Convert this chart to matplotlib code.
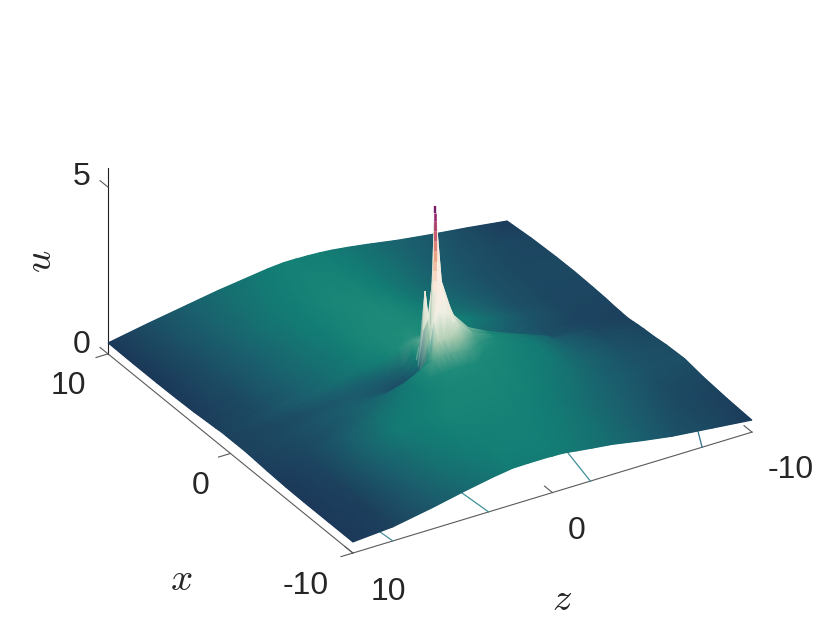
import numpy as np
import matplotlib
matplotlib.use("Agg")
import matplotlib.pyplot as plt
from matplotlib.colors import LinearSegmentedColormap
from matplotlib.collections import LineCollection
from matplotlib.tri import Triangulation
from mpl_toolkits.mplot3d import proj3d

W, H = 830, 623
plt.rcParams['font.family'] = ['Liberation Sans', 'DejaVu Sans']
plt.rcParams['mathtext.fontset'] = 'cm'

# ---------- data ----------
x_nodes = [10, 8, 6, 4.5, 3, 2, 1.2, .7, .35, .15, 0, -.15, -.35, -.7, -1.2, -2, -3, -4.5, -6, -8, -10]
z_nodes = [10, 8, 6, 4.5, 3, 2, 1.2, .6, .25, 0, -.25, -.6, -1.2, -2, -3, -4.5, -6, -8, -10]
u_table = [
    [.33, .55, .75, .90, 1.02, 1.10, 1.14, 1.14, 1.13, 1.13, 1.12, 1.11, 1.08, 1.02, .93, .78, .66, .52, .36],
    [.32, .55, .78, .95, 1.08, 1.15, 1.18, 1.18, 1.17, 1.17, 1.16, 1.14, 1.10, 1.02, .92, .76, .63, .52, .44],
    [.32, .54, .78, .96, 1.10, 1.18, 1.22, 1.22, 1.21, 1.21, 1.20, 1.17, 1.12, 1.02, .90, .72, .60, .50, .48],
    [.33, .53, .76, .95, 1.10, 1.19, 1.24, 1.25, 1.25, 1.25, 1.24, 1.22, 1.16, 1.05, .90, .74, .60, .49, .49],
    [.35, .52, .74, .92, 1.08, 1.20, 1.26, 1.28, 1.28, 1.28, 1.27, 1.25, 1.20, 1.15, .98, .80, .60, .47, .47],
    [.38, .52, .72, .90, 1.06, 1.20, 1.27, 1.30, 1.30, 1.30, 1.30, 1.28, 1.26, 1.22, 1.10, .85, .62, .46, .45],
    [.40, .52, .72, .90, 1.05, 1.18, 1.28, 1.32, 1.33, 1.33, 1.32, 1.30, 1.22, 1.08, 1.00, .75, .60, .44, .42],
    [.42, .55, .72, .90, 1.02, 1.14, 1.30, 1.38, 1.42, 1.45, 1.40, 1.30, 1.10, .95, .88, .72, .58, .44, .41],
    [.42, .54, .66, .78, .78, .72, .80, 1.25, 1.50, 1.75, 1.90, 1.45, .98, .85, .78, .68, .58, .46, .40],
    [.42, .52, .64, .74, .72, .64, .65, 1.05, 1.90, 2.20, 3.40, 3.30, 2.10, 1.55, 1.25, .90, .58, .46, .40],
    [.42, .51, .62, .70, .68, .60, .60, .90, 3.10, 1.60, 5.57, 3.00, 1.90, 1.45, 1.20, .92, .60, .47, .40],
    [.42, .50, .60, .68, .66, .58, .58, .72, 1.60, 2.00, 3.00, 2.90, 2.00, 1.50, 1.25, .98, .62, .48, .41],
    [.42, .50, .60, .68, .64, .56, .55, .62, 1.20, 2.30, 2.50, 2.40, 1.90, 1.45, 1.25, 1.01, .66, .50, .42],
    [.42, .50, .62, .72, .70, .60, .75, 1.25, 1.60, 1.75, 1.78, 1.75, 1.60, 1.35, 1.22, 1.04, .72, .52, .44],
    [.42, .52, .64, .76, .85, 1.02, 1.25, 1.42, 1.48, 1.50, 1.50, 1.48, 1.42, 1.30, 1.20, 1.06, .76, .55, .46],
    [.40, .50, .63, .80, .98, 1.10, 1.22, 1.28, 1.30, 1.31, 1.31, 1.30, 1.28, 1.24, 1.16, 1.05, .78, .58, .48],
    [.37, .46, .72, .95, 1.08, 1.15, 1.20, 1.22, 1.23, 1.24, 1.24, 1.23, 1.22, 1.20, 1.14, 1.02, .80, .60, .53],
    [.34, .44, .80, 1.05, 1.15, 1.20, 1.20, 1.20, 1.20, 1.20, 1.20, 1.20, 1.19, 1.16, 1.08, .95, .76, .60, .56],
    [.33, .42, .75, 1.00, 1.12, 1.17, 1.17, 1.17, 1.17, 1.17, 1.17, 1.16, 1.15, 1.10, 1.02, .86, .70, .54, .47],
    [.33, .40, .68, .92, 1.05, 1.12, 1.14, 1.15, 1.15, 1.15, 1.14, 1.13, 1.10, 1.04, .96, .80, .65, .50, .40],
    [.33, .42, .64, .83, 1.00, 1.09, 1.10, 1.10, 1.10, 1.09, 1.09, 1.08, 1.03, .97, .90, .74, .60, .48, .36],
]
spike_x, spike_z = 0, -.25
spike_levels = [3.0, 3.3, 3.6, 3.9, 4.2, 4.5, 4.8, 5.1, 5.35, 5.57]
contour_z = [8, 3.2, -1.9, -7.5]
contour_dx = [1.5, 2.5, 4.0, 2.0]
contour_dz = [.1, .15, -.7, -.9]
contour_col = ['#4a8f9c', '#3f9098', '#3f9098', '#2f6f8c']
x_ticks = [10, 0, -10]
z_ticks = [10, 0, -10]
u_ticks = [0, 5]
U_MAX = 5.57

cmap = LinearSegmentedColormap.from_list('curlish', [
    (0.00, '#151d44'), (0.06, '#1c3a5a'), (0.12, '#1c5a6c'), (0.20, '#137f75'),
    (0.235, '#1f8c7a'), (0.30, '#a6c8ab'), (0.38, '#e6ecdc'), (0.50, '#fbf4ee'),
    (0.61, '#f6dcc8'), (0.74, '#e8a080'), (0.83, '#cf5f70'), (0.93, '#9a2a70'), (1.00, '#6a1a68')])

X, Z = np.meshgrid(x_nodes, z_nodes, indexing='ij')
U = np.array(u_table)

fig = plt.figure(figsize=(W / 100, H / 100), dpi=100, facecolor='white')
ax = fig.add_axes([(W - H) / 2 / W, 0, H / W, 1], projection='3d')
ax.set_proj_type('ortho')
ax.view_init(elev=29.76, azim=148.6)
surf = ax.plot_surface(X, Z, np.minimum(U, 3.0), cmap=cmap, vmin=0, vmax=U_MAX, rstride=1, cstride=1,
                       linewidth=0, antialiased=True, shade=False)
surf.set_clip_on(False)
ax.set_xlim(-10, 10)
ax.set_ylim(-10, 10)
ax.set_zlim(0, U_MAX)
ax.set_axis_off()
ax.patch.set_alpha(0)

# axis lines and ticks on the floor of the box
axc = '#5a5a5a'
kw = dict(color=axc, lw=0.8, clip_on=False)
ax.plot([10, -10], [10, 10], [0, 0], **kw)
ax.plot([-10, -10], [10, -10], [0, 0], **kw)
ax.plot([10, 10], [10, 10], [0, U_MAX], color='#222222', lw=0.8, clip_on=False)
for t in x_ticks:
    ax.plot([t, t], [10, 10.6], [0, 0], **kw)
for t in z_ticks:
    ax.plot([-10, -9.35], [t, t], [0, 0], **kw)
for t in u_ticks:
    ax.plot([10, 10.65], [10, 10], [t, t], **kw)
for zi, dx, dz, c in zip(contour_z, contour_dx, contour_dz, contour_col):
    ax.plot([-10, -10 + dx], [zi, zi + dz], [0, 0], color=c, lw=0.9, clip_on=False)

# fit the box on the picture: corner (x=10,z=10) and corner (x=-10,z=-10)
target_a = np.array([108.0, H - 354.0])
target_c = np.array([752.0, H - 432.0])
zoom = 1.0
aspect = (470, 467.5, 214)


def to_px(xs, zs, us):
    tx, ty, tz = proj3d.proj_transform(np.asarray(xs, float), np.asarray(zs, float),
                                       np.asarray(us, float), ax.get_proj())
    return ax.transData.transform(np.column_stack([tx, ty])), tz


for _ in range(4):
    ax.set_box_aspect(aspect, zoom=zoom)
    fig.canvas.draw()
    p, _tz = to_px([10, -10], [10, -10], [0, 0])
    zoom *= np.linalg.norm(target_c - target_a) / np.linalg.norm(p[1] - p[0])
    ax.set_box_aspect(aspect, zoom=zoom)
    fig.canvas.draw()
    p, _tz = to_px([10, -10], [10, -10], [0, 0])
    shift = (target_a + target_c) / 2 - p.mean(axis=0)
    pos = ax.get_position(original=True)
    ax.set_position([pos.x0 + shift[0] / W, pos.y0 + shift[1] / H, pos.width, pos.height])
fig.canvas.draw()

# smooth shading of the same table, on the same projection, far facets first
pts, depth = to_px(X.ravel(), Z.ravel(), U.ravel())
corner, cz = to_px([-10, 10], [10, -10], [0, 0])
sign = np.sign(cz[1] - cz[0])
nr, nc = U.shape
tris = []
for i in range(nr - 1):
    for j in range(nc - 1):
        a, b, c, d = i * nc + j, i * nc + j + 1, (i + 1) * nc + j, (i + 1) * nc + j + 1
        tris += [[a, b, c], [b, d, c]]
tris = np.array(tris)
order = np.argsort(-sign * depth[tris].mean(axis=1))
tris = tris[order]

ov = fig.add_axes([0, 0, 1, 1], zorder=5)
ov.set_xlim(0, W)
ov.set_ylim(0, H)
ov.set_axis_off()
ov.patch.set_alpha(0)
tri = Triangulation(pts[:, 0], pts[:, 1], triangles=tris)
ov.tripcolor(tri, np.minimum(U, 3.0).ravel(), cmap=cmap, vmin=0, vmax=U_MAX, shading='gouraud')

# the thin top of the main peak
lv = np.array(spike_levels)
sp, _d = to_px(np.full(lv.size, spike_x), np.full(lv.size, spike_z), lv)
segs = [sp[i:i + 2] for i in range(lv.size - 1)]
lc = LineCollection(segs, cmap=cmap, norm=plt.Normalize(0, U_MAX),
                    linewidths=np.linspace(3.0, 1.7, lv.size - 1), capstyle='butt')
lc.set_array((lv[:-1] + lv[1:]) / 2)
ov.add_collection(lc)


def label(px, py, s, size=23, **k):
    fig.text(px / W, 1 - py / H, s, size=size, ha='center', va='center', color='#262626', **k)


label(82, 177, '5')
label(82, 345, '0')
label(68, 386, '10')
label(201, 486, '0')
label(306, 586, '-10')
label(388, 592, '10')
label(577, 531, '0')
label(791, 470, '-10')
label(181, 580, r'$x$', size=28)
label(562, 600, r'$z$', size=28)
label(41, 261, r'$u$', size=28, rotation=90)

fig.savefig('out.png', dpi=100, facecolor='white')
